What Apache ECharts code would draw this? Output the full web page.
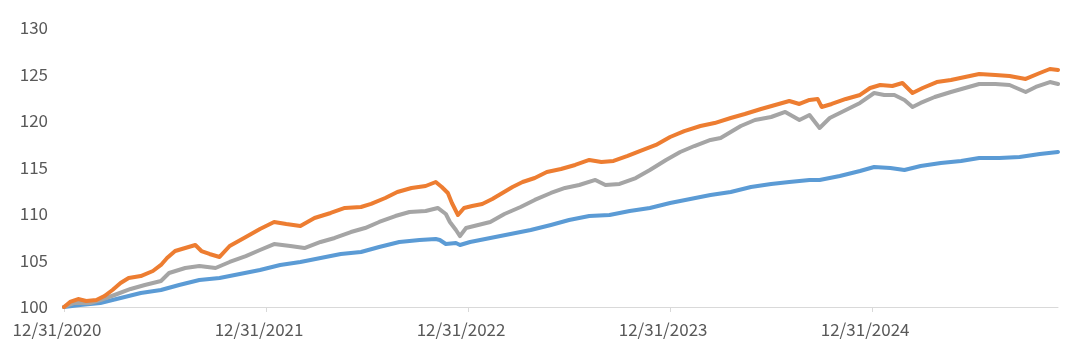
<!DOCTYPE html>
<html>
<head>
<meta charset="utf-8">
<script src="https://cdn.jsdelivr.net/npm/echarts@6/dist/echarts.min.js"></script>
<style>
html,body{margin:0;padding:0;background:#fff;}
#chart{width:1080px;height:361px;}
</style>
</head>
<body>
<div id="chart"></div>
<script>
// x values: years elapsed since 12/31/2020
var startYear = 2020;
var yTicks = [100, 105, 110, 115, 120, 125, 130];

var orangeSeries = [
[0,100.0],[0.03,100.54],[0.07,100.86],[0.11,100.65],[0.16,100.75],[0.20,101.18],[0.24,101.83],[0.28,102.58],
[0.32,103.12],[0.38,103.33],[0.44,103.87],[0.48,104.52],[0.51,105.27],[0.55,106.02],[0.60,106.34],[0.65,106.67],
[0.68,106.02],[0.72,105.70],[0.77,105.38],[0.82,106.56],[0.90,107.53],[0.97,108.39],[1.04,109.14],[1.10,108.92],
[1.17,108.71],[1.24,109.57],[1.32,110.11],[1.39,110.65],[1.47,110.75],[1.52,111.08],[1.59,111.72],[1.65,112.37],
[1.72,112.80],[1.79,113.01],[1.84,113.44],[1.87,112.90],[1.90,112.26],[1.92,111.18],[1.95,109.89],[1.98,110.65],
[2.02,110.86],[2.07,111.08],[2.12,111.61],[2.17,112.26],[2.22,112.90],[2.27,113.44],[2.33,113.87],[2.39,114.52],
[2.46,114.84],[2.53,115.27],[2.60,115.81],[2.66,115.59],[2.72,115.70],[2.79,116.24],[2.85,116.77],[2.93,117.42],
[3.00,118.28],[3.07,118.92],[3.15,119.46],[3.22,119.78],[3.30,120.32],[3.37,120.75],[3.45,121.29],[3.52,121.72],
[3.59,122.15],[3.64,121.83],[3.69,122.26],[3.73,122.37],[3.75,121.51],[3.80,121.83],[3.87,122.37],[3.94,122.80],
[3.99,123.55],[4.04,123.87],[4.10,123.76],[4.15,124.09],[4.20,123.01],[4.25,123.55],[4.32,124.19],[4.39,124.41],
[4.46,124.73],[4.53,125.05],[4.61,124.95],[4.68,124.84],[4.76,124.52],[4.83,125.16],[4.88,125.59],[4.92,125.48]
];

var graySeries = [
[0,100.0],[0.05,100.43],[0.13,100.43],[0.18,100.75],[0.25,101.29],[0.33,101.94],[0.40,102.37],[0.48,102.80],
[0.52,103.66],[0.60,104.19],[0.67,104.41],[0.75,104.19],[0.82,104.84],[0.90,105.48],[0.97,106.13],[1.04,106.77],
[1.12,106.56],[1.19,106.34],[1.27,106.99],[1.34,107.42],[1.42,108.06],[1.49,108.49],[1.56,109.14],[1.64,109.78],
[1.71,110.22],[1.79,110.32],[1.85,110.65],[1.89,110.00],[1.91,109.14],[1.94,108.28],[1.96,107.63],[1.99,108.49],
[2.03,108.71],[2.11,109.14],[2.18,110.00],[2.26,110.75],[2.33,111.51],[2.41,112.26],[2.48,112.80],[2.55,113.12],
[2.63,113.66],[2.68,113.12],[2.75,113.23],[2.83,113.87],[2.90,114.73],[2.98,115.81],[3.05,116.67],[3.12,117.31],
[3.20,117.96],[3.25,118.17],[3.30,118.82],[3.35,119.46],[3.42,120.11],[3.50,120.43],[3.57,120.97],[3.64,120.11],
[3.69,120.65],[3.74,119.25],[3.79,120.32],[3.87,121.18],[3.94,121.94],[4.01,123.01],[4.06,122.80],[4.11,122.80],
[4.16,122.26],[4.20,121.51],[4.24,121.94],[4.31,122.58],[4.39,123.12],[4.46,123.55],[4.53,123.98],[4.61,123.98],
[4.68,123.87],[4.76,123.12],[4.81,123.66],[4.88,124.19],[4.92,123.98]
];

var blueSeries = [
[0,100.0],[0.08,100.22],[0.18,100.43],[0.28,100.97],[0.38,101.51],[0.48,101.83],[0.57,102.37],[0.67,102.90],
[0.77,103.12],[0.87,103.55],[0.97,103.98],[1.07,104.52],[1.17,104.84],[1.27,105.27],[1.37,105.70],[1.47,105.91],
[1.56,106.45],[1.66,106.99],[1.76,107.20],[1.84,107.31],[1.86,107.20],[1.89,106.77],[1.94,106.88],[1.96,106.67],
[2.01,106.99],[2.11,107.42],[2.21,107.85],[2.31,108.28],[2.41,108.82],[2.50,109.35],[2.60,109.78],[2.70,109.89],
[2.80,110.32],[2.90,110.65],[3.00,111.18],[3.10,111.61],[3.20,112.04],[3.30,112.37],[3.40,112.90],[3.50,113.23],
[3.59,113.44],[3.69,113.66],[3.74,113.66],[3.84,114.09],[3.94,114.62],[4.01,115.05],[4.09,114.95],[4.16,114.73],
[4.24,115.16],[4.34,115.48],[4.44,115.70],[4.53,116.02],[4.63,116.02],[4.73,116.13],[4.83,116.45],[4.92,116.67]
];

var xMax = 4.92;

var chart = echarts.init(document.getElementById('chart'), null, {renderer: 'canvas'});
var fontFamily = '"Noto Sans CJK SC", "Noto Sans", sans-serif';
function lineSeries(name, data, color) {
  return {
    name: name, type: 'line', data: data, showSymbol: false, smooth: false,
    lineStyle: {color: color, width: 4, join: 'round', cap: 'round'},
    itemStyle: {color: color}, animation: false
  };
}
chart.setOption({
  backgroundColor: '#ffffff',
  animation: false,
  grid: {left: 64, right: 22, top: 28, bottom: 54, containLabel: false},
  xAxis: {
    type: 'value', min: 0, max: xMax, interval: 1,
    axisLine: {show: true, lineStyle: {color: '#d9d9d9', width: 1}},
    axisTick: {show: true, length: 5, lineStyle: {color: '#d9d9d9'}},
    splitLine: {show: false},
    axisLabel: {
      color: '#595959', fontSize: 17, fontFamily: fontFamily, margin: 14,
      padding: [0, 14, 0, 0], showMaxLabel: false,
      formatter: function (v) {
        if (Math.abs(v - Math.round(v)) > 1e-6) return '';
        return '12/31/' + (startYear + Math.round(v));
      }
    }
  },
  yAxis: {
    type: 'value', min: yTicks[0], max: yTicks[yTicks.length - 1], interval: 5,
    axisLine: {show: false}, axisTick: {show: false}, splitLine: {show: false},
    axisLabel: {color: '#595959', fontSize: 17, fontFamily: fontFamily, margin: 16}
  },
  series: [
    lineSeries('Blue', blueSeries, '#5B9BD5'),
    lineSeries('Gray', graySeries, '#A5A5A5'),
    lineSeries('Orange', orangeSeries, '#ED7D31')
  ]
});
</script>
</body>
</html>
